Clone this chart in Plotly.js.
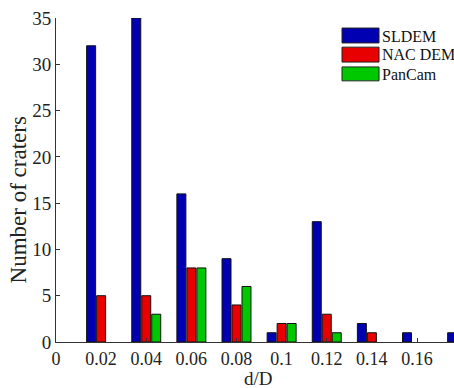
<!DOCTYPE html>
<html>
<head>
<meta charset="utf-8">
<script src="https://cdn.plot.ly/plotly-3.0.1.min.js"></script>
<style>html,body{margin:0;padding:0;background:#fff;}#chart{width:454px;height:388px;}</style>
</head>
<body>
<div id="chart"></div>
<script>
const dD = [0.02, 0.04, 0.06, 0.08, 0.10, 0.12, 0.14, 0.16, 0.18];
const sldem = [32, 35, 16, 9, 1, 13, 2, 1, 1];
const nacdem = [5, 5, 8, 4, 2, 3, 1, 0, 0];
const pancam = [0, 3, 8, 6, 2, 1, 0, 0, 0];
const seriesNames = ['SLDEM', 'NAC DEM', 'PanCam'];
const seriesColors = ['rgb(0,0,178)', 'rgb(232,0,0)', 'rgb(0,200,0)'];
const xTickVals = [0, 0.02, 0.04, 0.06, 0.08, 0.10, 0.12, 0.14, 0.16];
const xTickText = ['0', '0.02', '0.04', '0.06', '0.08', '0.1', '0.12', '0.14', '0.16'];
const xTitle = 'd/D';
const yTitle = 'Number of craters';

const font = 'Liberation Serif';
const values = [sldem, nacdem, pancam];
const traces = values.map((v, i) => ({
  type: 'bar', x: dD, y: v.map(d => (d === 0 ? null : d)), name: seriesNames[i], showlegend: false,
  marker: {color: seriesColors[i], line: {color: '#111', width: 1}},
  hoverinfo: 'x+y'
}));

// custom legend (paper coords)
const legX0 = 0.7186, legX1 = 0.8116, legTx = 0.815;
const legRows = [[0.969, 0.923, 0.944], [0.910, 0.864, 0.886], [0.849, 0.806, 0.827]];
const shapes = legRows.map((r, i) => ({
  type: 'rect', xref: 'paper', yref: 'paper', x0: legX0, x1: legX1, y0: r[1], y1: r[0],
  fillcolor: seriesColors[i], line: {color: '#222', width: 1}
}));
const annotations = legRows.map((r, i) => ({
  xref: 'paper', yref: 'paper', x: legTx, y: r[2], xanchor: 'left', yanchor: 'middle',
  text: seriesNames[i], showarrow: false, font: {family: font, size: 16, color: '#111'}
}));
// axis titles
annotations.push({
  xref: 'paper', yref: 'paper', x: 0.51, y: -0.112, xanchor: 'center', yanchor: 'middle',
  text: xTitle, showarrow: false, font: {family: font, size: 19, color: '#222'}
});
annotations.push({
  xref: 'paper', yref: 'paper', x: -0.0955, y: 0.44, xanchor: 'center', yanchor: 'middle',
  textangle: -90, text: yTitle, showarrow: false, font: {family: font, size: 23, color: '#222'}
});

const layout = {
  width: 454, height: 388,
  margin: {l: 56, r: 0, t: 18, b: 46},
  paper_bgcolor: '#fff', plot_bgcolor: '#fff',
  barmode: 'group', bargap: 0.336, bargroupgap: 0.1,
  font: {family: font, color: '#222'},
  xaxis: {
    range: [0, 0.1764], tickvals: xTickVals, ticktext: xTickText,
    ticks: 'inside', ticklen: 4, tickcolor: '#333', showline: true, linecolor: '#333', linewidth: 1,
    showgrid: false, zeroline: false, tickfont: {family: font, size: 18, color: '#222'},
    automargin: false
  },
  yaxis: {
    range: [0, 35], dtick: 5, ticks: 'inside', ticklen: 4, tickcolor: '#333',
    showline: true, linecolor: '#333', linewidth: 1, showgrid: false, zeroline: false,
    tickfont: {family: font, size: 19, color: '#222'},
    automargin: false
  },
  shapes: shapes, annotations: annotations
};
Plotly.newPlot('chart', traces, layout, {displayModeBar: false, staticPlot: true});
</script>
</body>
</html>
